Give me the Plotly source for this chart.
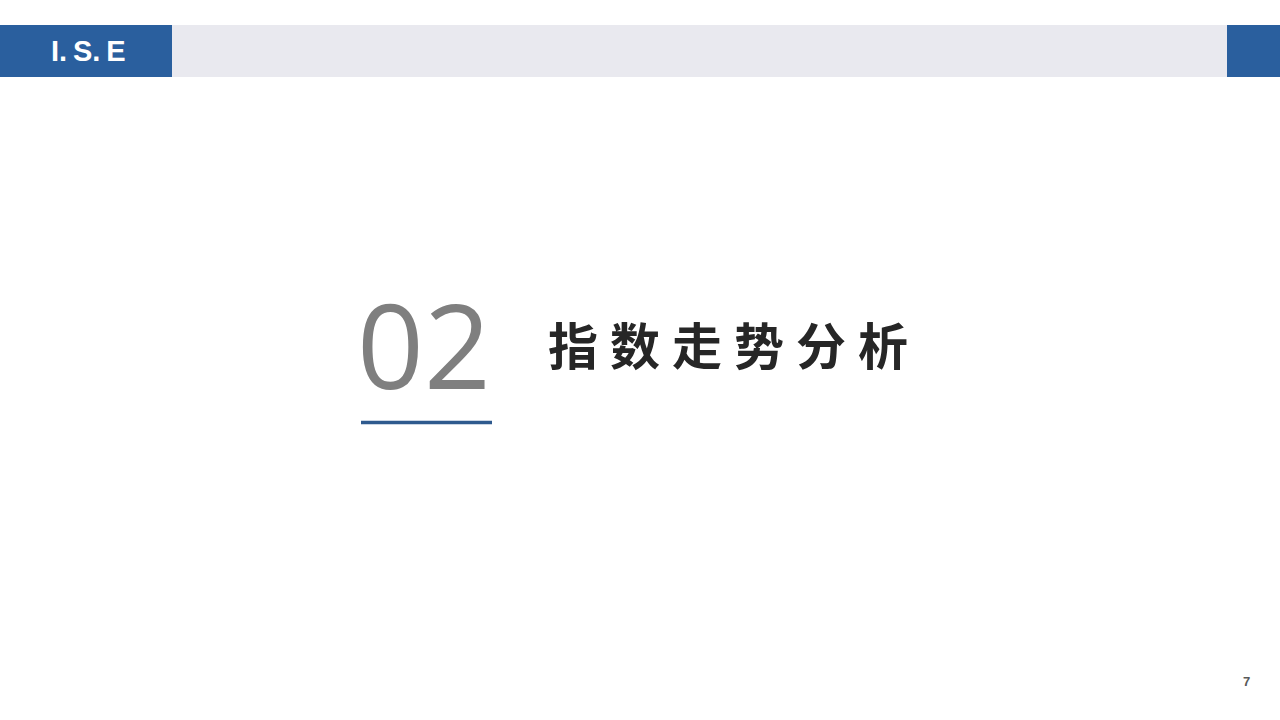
import plotly.graph_objects as go

# slide content
section_number = "02"
section_title = ["指", "数", "走", "势", "分", "析"]
logo_text = "I.\u2009S.\u2009E"
page_number = "7"

blue = "#2A5F9E"
header_grey = "#E9E9EF"

fig = go.Figure()

# header bar: left logo block, grey strip, right block
fig.add_shape(type="rect", x0=172, x1=1227, y0=25, y1=77,
              fillcolor=header_grey, line_width=0, layer="below")
fig.add_shape(type="rect", x0=0, x1=172, y0=25, y1=77,
              fillcolor=blue, line_width=0, layer="below")
fig.add_shape(type="rect", x0=1227, x1=1280, y0=25, y1=77,
              fillcolor=blue, line_width=0, layer="below")

fig.add_annotation(x=88, y=51, text="<b>" + logo_text + "</b>", showarrow=False,
                   font=dict(family="Liberation Sans", size=29, color="white"),
                   xanchor="center", yanchor="middle")

# big number + underline
fig.add_annotation(x=424, y=343, text=section_number, showarrow=False,
                   font=dict(family="Open Sans", size=117, color="#7F7F7F"),
                   xanchor="center", yanchor="middle")
fig.add_shape(type="line", x0=361, x1=492, y0=422.5, y1=422.5,
              line=dict(color="#2E5A8E", width=3.5))

# title, one annotation per character for the wide letter spacing
x_start, pitch = 573, 62
for i, ch in enumerate(section_title):
    fig.add_annotation(x=x_start + i * pitch, y=343, text="<b>" + ch + "</b>",
                       showarrow=False,
                       font=dict(family="Noto Sans CJK SC", size=50, color="#262626"),
                       xanchor="center", yanchor="middle")

# page number
fig.add_annotation(x=1246, y=681, text="<b>" + page_number + "</b>", showarrow=False,
                   font=dict(family="Liberation Sans", size=13, color="#595959"),
                   xanchor="center", yanchor="middle")

fig.update_xaxes(range=[0, 1280], visible=False, fixedrange=True)
fig.update_yaxes(range=[720, 0], visible=False, fixedrange=True)
fig.update_layout(width=1280, height=720, margin=dict(l=0, r=0, t=0, b=0),
                  plot_bgcolor="white", paper_bgcolor="white", showlegend=False)

# drop the default body margin so the slide sits at the window's corner
fig.write_html("out.html", config={"displayModeBar": False},
               post_script="document.body.style.margin='0';")
